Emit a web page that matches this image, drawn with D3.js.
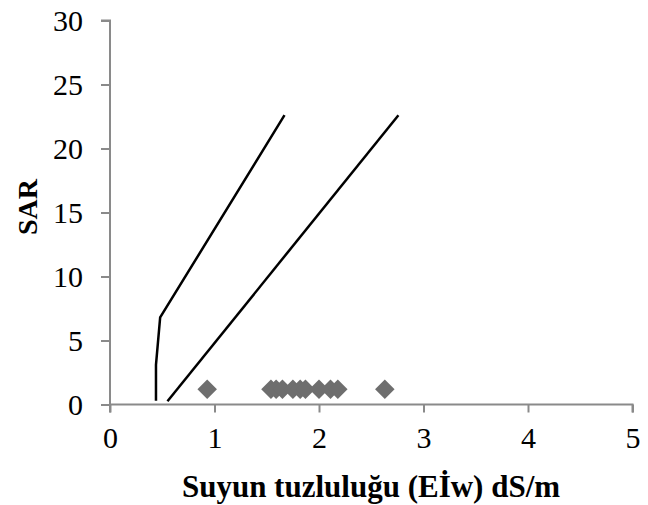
<!DOCTYPE html>
<html><head><meta charset="utf-8">
<script src="https://cdn.jsdelivr.net/npm/d3@7"></script>
<style>body{margin:0;background:#fff}svg{display:block}</style>
</head><body>
<svg id="c" width="648" height="505"></svg>
<script>
const xTicks = [0, 1, 2, 3, 4, 5];
const yTicks = [0, 5, 10, 15, 20, 25, 30];
const line1 = [[0.44, 0.3], [0.44, 3.1], [0.48, 6.8], [1.67, 22.6]];
const line2 = [[0.55, 0.25], [2.76, 22.6]];
const ecw = [0.93, 1.54, 1.59, 1.65, 1.75, 1.82, 1.87, 2.0, 2.11, 2.18, 2.63];
const sar = [1.2, 1.2, 1.2, 1.2, 1.2, 1.2, 1.2, 1.2, 1.2, 1.2, 1.2];

const svg = d3.select("#c");
const x = d3.scaleLinear().domain([0, 5]).range([110, 632.5]);
const y = d3.scaleLinear().domain([0, 30]).range([404.5, 20.5]);
const axisColor = "#8a8a8a";
const font = "'Liberation Serif','Times New Roman',serif";

const gx = svg.append("g").attr("transform", `translate(0,${y(0)})`)
  .call(d3.axisBottom(x).tickValues(xTicks).tickSize(8).tickPadding(14).tickFormat(d3.format("d")));
const gy = svg.append("g").attr("transform", `translate(${x(0)},0)`)
  .call(d3.axisLeft(y).tickValues(yTicks).tickSize(9).tickPadding(18).tickFormat(d3.format("d")));
[gx, gy].forEach(g => {
  g.select(".domain").attr("stroke", axisColor).attr("stroke-width", 2);
  g.selectAll(".tick line").attr("stroke", axisColor).attr("stroke-width", 2);
  g.selectAll("text").attr("fill", "#000").style("font-family", font).style("font-size", "30px");
});
gy.select(".domain").attr("d", `M-9,${y(30)}H0V${y(0)}`);
gx.select(".domain").attr("d", `M${x(0)},${8}V0H${x(5)}V8`);

const lg = d3.line().x(d => x(d[0])).y(d => y(d[1]));
[line1, line2].forEach(l => svg.append("path").attr("d", lg(l))
  .attr("fill", "none").attr("stroke", "#000").attr("stroke-width", 2.5).attr("stroke-linejoin", "miter"));

const sym = d3.symbol().type(d3.symbolDiamond2).size(242);
svg.append("g").selectAll("path").data(ecw).join("path")
  .attr("transform", (d, i) => `translate(${x(d)},${y(sar[i])})`)
  .attr("d", sym).attr("fill", "#6e6e6e");

svg.append("text").attr("x", 371).attr("y", 497).attr("text-anchor", "middle")
  .style("font-family", font).style("font-size", "31px").style("font-weight", "bold")
  .text("Suyun tuzluluğu (Eİw) dS/m");
svg.append("text").attr("transform", "translate(37,207) rotate(-90)").attr("text-anchor", "middle")
  .style("font-family", font).style("font-size", "28px").style("font-weight", "bold")
  .text("SAR");
</script>
</body></html>
